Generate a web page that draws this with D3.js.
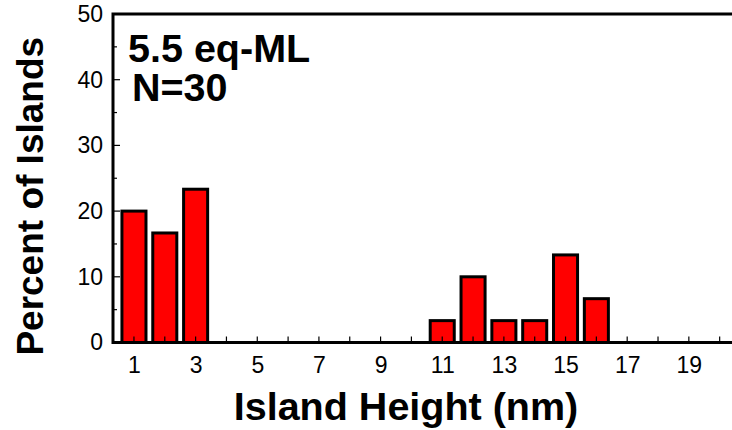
<!DOCTYPE html>
<html>
<head>
<meta charset="utf-8">
<script src="https://cdn.jsdelivr.net/npm/d3@7"></script>
<style>
  html, body { margin: 0; padding: 0; background: #fff; }
  svg { display: block; }
  text { font-family: "Liberation Sans", Arial, Helvetica, sans-serif; fill: #000; }
</style>
</head>
<body>
<svg id="chart" width="732" height="430"></svg>
<script>
// Island height histogram (bin centre in nm) and percentage of islands per bin
const heights = [1, 2, 3, 11, 12, 13, 14, 15, 16];
const percents = [20, 16.67, 23.33, 3.33, 10, 3.33, 3.33, 13.33, 6.67];
const xTickLabels = [1, 3, 5, 7, 9, 11, 13, 15, 17, 19];
const xMinorTicks = [2, 4, 6, 8, 10, 12, 14, 16, 18, 20];
const yTickLabels = [0, 10, 20, 30, 40, 50];
const yMinorTicks = [5, 15, 25, 35, 45];
const annotations = ["5.5 eq-ML", "N=30"];

const svg = d3.select("#chart");
const plotLeft = 113, plotRight = 732, plotTop = 14, plotBottom = 342.5;

const x = d3.scaleLinear().domain([0.32, 20.4]).range([plotLeft, plotRight]);
const y = d3.scaleLinear().domain([0, 50]).range([plotBottom, plotTop]);
const halfBar = 0.39;

// bars
svg.append("g").selectAll("rect")
  .data(heights.map((h, i) => ({ h, p: percents[i] })))
  .join("rect")
  .attr("x", d => x(d.h - halfBar))
  .attr("y", d => y(d.p))
  .attr("width", d => x(d.h + halfBar) - x(d.h - halfBar))
  .attr("height", d => y(0) - y(d.p))
  .attr("fill", "#ff0000")
  .attr("stroke", "#000")
  .attr("stroke-width", 3);

// x axis: labelled ticks at odd heights, inward tick marks
const xAxis = d3.axisBottom(x).tickValues(xTickLabels).tickSize(0).tickPadding(14)
  .tickFormat(d3.format("d"));
const gx = svg.append("g").attr("transform", `translate(0,${plotBottom})`).call(xAxis);
gx.select(".domain").remove();
gx.selectAll("text").style("font-size", "23px").style("font-family", "Liberation Sans, Arial, sans-serif");
svg.append("g").selectAll("line")
  .data(xTickLabels.concat(xMinorTicks))
  .join("line")
  .attr("x1", d => x(d)).attr("x2", d => x(d))
  .attr("y1", plotBottom).attr("y2", plotBottom - 6)
  .attr("stroke", "#000").attr("stroke-width", 1.2);

// y axis: labels outside, tick marks inward
const yAxis = d3.axisLeft(y).tickValues(yTickLabels).tickSize(0).tickPadding(10)
  .tickFormat(d3.format("d"));
const gy = svg.append("g").attr("transform", `translate(${plotLeft},0)`).call(yAxis);
gy.select(".domain").remove();
gy.selectAll("text").style("font-size", "23px").style("font-family", "Liberation Sans, Arial, sans-serif");
svg.append("g").selectAll("line")
  .data(yTickLabels.map(v => ({ v, len: 7 })).concat(yMinorTicks.map(v => ({ v, len: 4 }))))
  .join("line")
  .attr("x1", plotLeft).attr("x2", d => plotLeft + d.len)
  .attr("y1", d => y(d.v)).attr("y2", d => y(d.v))
  .attr("stroke", "#000").attr("stroke-width", 1.2);

// frame: left and bottom axes plus top border
svg.append("path")
  .attr("d", `M${plotRight},${plotTop}H${plotLeft}V${plotBottom}H${plotRight}`)
  .attr("fill", "none").attr("stroke", "#000").attr("stroke-width", 3);

// axis titles
svg.append("text")
  .attr("x", 406).attr("y", 420)
  .attr("text-anchor", "middle")
  .style("font-size", "39.5px").style("font-weight", "bold")
  .text("Island Height (nm)");
svg.append("text")
  .attr("transform", `translate(43,${(plotTop + plotBottom) / 2 + 18}) rotate(-90)`)
  .attr("text-anchor", "middle")
  .style("font-size", "37px").style("font-weight", "bold")
  .text("Percent of Islands");

// in-plot annotations
const annoPos = [[128, 62], [132, 101]];
svg.append("g").selectAll("text")
  .data(annotations)
  .join("text")
  .attr("transform", (d, i) => `translate(${annoPos[i][0]},${annoPos[i][1]}) scale(1.04,1)`)
  .style("font-size", "38px").style("font-weight", "bold")
  .text(d => d);
</script>
</body>
</html>
